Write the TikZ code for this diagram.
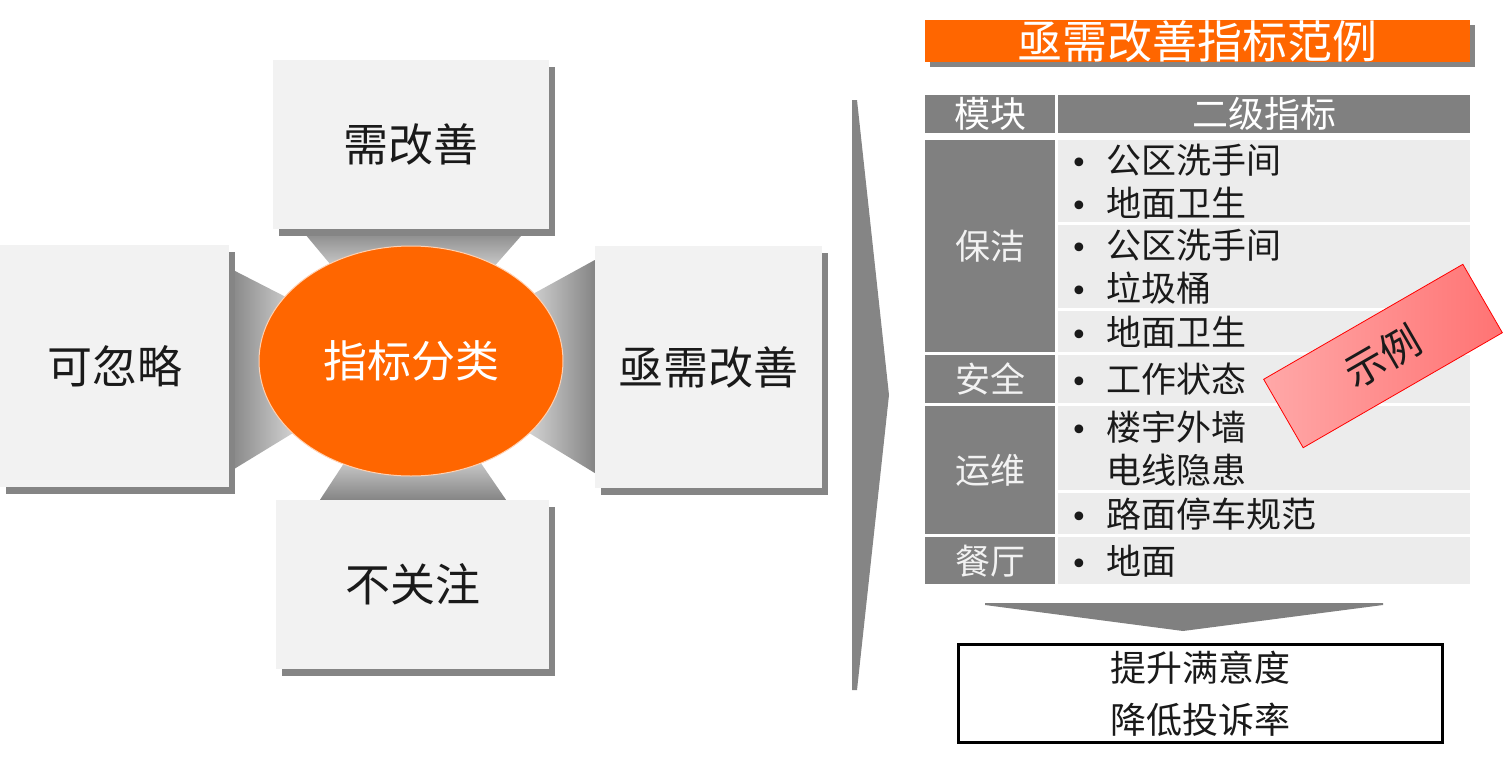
\documentclass[tikz,border=0pt]{standalone}
\usepackage{fontspec}
\setmainfont{Noto Sans CJK SC}
\newfontfamily\symf{DejaVu Sans}
\usetikzlibrary{shapes.geometric,shadows,calc,backgrounds}
\definecolor{cardgray}{HTML}{F2F2F2}
\definecolor{shadowgray}{HTML}{858585}
\definecolor{brandorange}{HTML}{FF6600}
\definecolor{celldark}{HTML}{808080}
\definecolor{celllight}{HTML}{ECECEC}
\definecolor{trapdark}{HTML}{858585}
\definecolor{traplight}{HTML}{E6E6E6}
\definecolor{stampA}{HTML}{FFA8A8}
\definecolor{stampB}{HTML}{FF7373}
\definecolor{inktext}{HTML}{1A1A1A}
\newcommand\itm{\makebox[36pt][l]{{\symf\fontsize{30}{43}\selectfont •}}}
\newcommand\nob{\makebox[36pt][l]{}}
\begin{document}
\begin{tikzpicture}[x=1pt,y=-1pt,
 card/.style={fill=cardgray, inner sep=0, text=inktext, font=\fontsize{45}{52}\selectfont,
   drop shadow={shadow xshift=6pt,shadow yshift=-7pt,fill=shadowgray,opacity=1}},
 hdr/.style={fill=celldark, text=white, inner sep=0, anchor=north west, minimum height=38, font=\fontsize{36}{42}\selectfont},
 modcell/.style={fill=celldark, text=white!95!black, inner sep=0, anchor=north west, minimum width=130, font=\fontsize{35}{42}\selectfont},
 itemcell/.style={fill=celllight, text=inktext, inner xsep=12, inner ysep=0, anchor=north west, text width=388, align=left, font=\fontsize{35}{43}\selectfont},
]
\useasboundingbox (0,0) rectangle (1504,760);

% ---------- left diagram ----------
\node[card, minimum width=276, minimum height=169] (need) at (411,144.5) {需改善};
\node[card, minimum width=229, minimum height=242] (ign) at (114.5,366) {可忽略};
\node[card, minimum width=227, minimum height=242] (ext) at (708.5,367) {亟需改善};
\node[card, minimum width=273, minimum height=169] (noc) at (412.5,584.5) {不关注};
\node[ellipse, inner sep=0, minimum width=304, minimum height=230, fill=brandorange,
      draw=white!70!brandorange, line width=1, text=white, font=\fontsize{44}{50}\selectfont] (core) at (411,361) {指标分类};

\begin{pgfonlayer}{background}
\coordinate (tA) at ($(need.south)+(-110,0)$);
\coordinate (tB) at ($(need.south)+(116,0)$);
\shade[top color=trapdark, bottom color=traplight]
  (tA) -- (tB) -- ($(tB)!0.4!(core.center)$) -- ($(tA)!0.4!(core.center)$) -- cycle;
\coordinate (lA) at ($(ign.east)+(0,-98)$);
\coordinate (lB) at ($(ign.east)+(0,106)$);
\shade[left color=trapdark, right color=traplight]
  (lA) -- ($(lA)!0.45!(core.center)$) -- ($(lB)!0.45!(core.center)$) -- (lB) -- cycle;
\coordinate (rA) at ($(ext.west)+(0,-107)$);
\coordinate (rB) at ($(ext.west)+(0,106)$);
\shade[left color=traplight, right color=trapdark]
  ($(rA)!0.45!(core.center)$) -- (rA) -- (rB) -- ($(rB)!0.45!(core.center)$) -- cycle;
\coordinate (bA) at ($(noc.north)+(-92.5,0)$);
\coordinate (bB) at ($(noc.north)+(93.5,0)$);
\shade[top color=traplight, bottom color=trapdark]
  ($(bA)!0.4!(core.center)$) -- ($(bB)!0.4!(core.center)$) -- (bB) -- (bA) -- cycle;
\end{pgfonlayer}

% ---------- big chevron ----------
\fill[shadowgray] (852,100) -- (857,100) -- (889,395) -- (857,690) -- (852,690) -- cycle;

% ---------- title ----------
\node[fill=brandorange, inner sep=0, minimum width=545, minimum height=42, text height=38, text depth=2,
      text=white, font=\fontsize{45}{50}\selectfont,
      drop shadow={shadow xshift=5pt,shadow yshift=-5pt,fill=shadowgray,opacity=1}] (title) at (1197,41) {亟需改善指标范例};

% ---------- table ----------
\node[hdr, minimum width=130] (hmod) at (925,95) {模块};
\node[hdr, minimum width=412] (hidx) at (1058,95) {二级指标};

\node[modcell, minimum height=212] (m1) at (925,140) {保洁};
\node[modcell, minimum height=48] (m2) at (925,355) {安全};
\node[modcell, minimum height=128] (m3) at (925,406) {运维};
\node[modcell, minimum height=47] (m4) at (925,537) {餐厅};

\node[itemcell, minimum height=82] (i1) at (1058,140) {\itm 公区洗手间\\\itm 地面卫生};
\node[itemcell, minimum height=83] (i2) at (1058,225) {\itm 公区洗手间\\\itm 垃圾桶};
\node[itemcell, minimum height=41] (i3) at (1058,311) {\itm 地面卫生};
\node[itemcell, minimum height=48] (i4) at (1058,355) {\itm 工作状态};
\node[itemcell, minimum height=84] (i5) at (1058,406) {\itm 楼宇外墙\\\nob 电线隐患};
\node[itemcell, minimum height=41] (i6) at (1058,493) {\itm 路面停车规范};
\node[itemcell, minimum height=47] (i7) at (1058,537) {\itm 地面};

% ---------- down arrow and result ----------
\node[draw=black, line width=3, fill=white, minimum width=484, minimum height=98, inner sep=0,
      align=center, text=inktext, font=\fontsize{36}{52}\selectfont] (result) at (1200,693.5) {提升满意度\\降低投诉率};
\coordinate (arrL) at (985,603);
\coordinate (arrR) at (1383,603);
\fill[celldark] (arrL) -- (arrR) -- ($(arrR)+(0,2)$) -- ($(result.north)+(-17,-12)$) -- ($(arrL)+(0,2)$) -- cycle;

% ---------- stamp ----------
\node[rotate=30, minimum width=230, minimum height=79, inner sep=0, draw=red, line width=0.8,
      left color=stampA, right color=stampB, text=inktext, font=\fontsize{40}{44}\selectfont] (stamp) at (1383,356) {示例};
\end{tikzpicture}
\end{document}
